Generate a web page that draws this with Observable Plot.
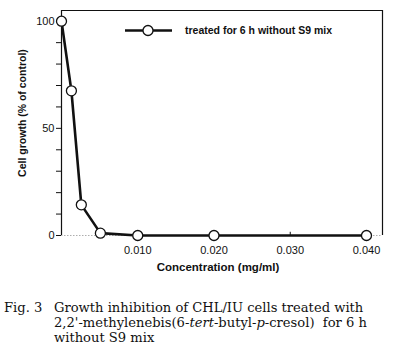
<!DOCTYPE html>
<html>
<head>
<meta charset="utf-8">
<script src="https://cdn.jsdelivr.net/npm/d3@7"></script>
<script src="https://cdn.jsdelivr.net/npm/@observablehq/plot@0.6"></script>
<style>
  html, body { margin: 0; padding: 0; background: #fff; }
  #wrap { position: relative; width: 396px; height: 355px; overflow: hidden; }
  #chart svg { display: block; }
  #caption {
    position: absolute; left: 4px; top: 300px;
    font-family: "DejaVu Serif", "Liberation Serif", serif;
    font-size: 13.1px; line-height: 15px; color: #111;
    display: flex; white-space: nowrap;
  }
  #caption .fig { width: 50px; flex: none; }
  #caption .txt { display: block; }
</style>
</head>
<body>
<div id="wrap">
  <div id="chart"></div>
  <div id="caption"><span class="fig">Fig. 3</span><span class="txt">Growth inhibition of CHL/IU cells treated with<br>2,2'-methylenebis(6-<i>tert</i>-butyl-<i>p</i>-cresol)&nbsp; for 6 h<br>without S9 mix</span></div>
</div>
<script>
// ---- data ----
const concentration = [0, 0.0013, 0.0026, 0.0051, 0.010, 0.020, 0.040];
const growth = [100, 67.5, 14.3, 1.1, 0, 0, 0];
const xTicks = [0.010, 0.020, 0.030, 0.040];
const yTicks = [0, 10, 20, 30, 40, 50, 60, 70, 80, 90, 100];
const yLabelled = [0, 50, 100];
const seriesName = "treated for 6 h without S9 mix";
const xTitle = "Concentration (mg/ml)";
const yTitle = "Cell growth (% of control)";
const xDomain = [0, 0.0421];
const yDomain = [0, 105];

const data = concentration.map((c, i) => ({c, g: growth[i]}));
const sans = "'Liberation Sans', Arial, sans-serif";

const chart = Plot.plot({
  width: 396,
  height: 285,
  marginLeft: 61,
  marginRight: 14,
  marginTop: 10,
  marginBottom: 50,
  style: {fontFamily: sans, fontSize: "11px", color: "#111", background: "#fff"},
  x: {domain: xDomain},
  y: {domain: yDomain},
  marks: [
    Plot.ruleY([0], {stroke: "#999", strokeWidth: 0.8, strokeDasharray: "1.5,1.5"}),
    Plot.ruleX([xDomain[0], xDomain[1]], {stroke: "#111", strokeWidth: 1.2}),
    Plot.ruleY([yDomain[1]], {stroke: "#111", strokeWidth: 1.2}),
    Plot.axisY({ticks: yTicks, tickSize: 5, tickPadding: 2, label: null,
      tickFormat: d => yLabelled.includes(d) ? String(d) : "", stroke: "#111", fontSize: 11}),
    Plot.axisX({ticks: xTicks, tickSize: 0, tickPadding: 11, label: null,
      tickFormat: d => d.toFixed(3), fontSize: 11}),
    Plot.ruleX(xTicks, {y1: 0, y2: 1.5, stroke: "#111", strokeWidth: 1}),
    Plot.text([xTitle], {frameAnchor: "bottom", textAnchor: "middle", dx: -4, dy: 35, fontSize: 11.5, fontWeight: "bold", fill: "#111"}),
    Plot.text([yTitle], {frameAnchor: "left", textAnchor: "middle", dx: -39, dy: -10, rotate: -90, fontSize: 10.5, fontWeight: "bold", fill: "#111"}),
    Plot.line(data, {x: "c", y: "g", stroke: "#111", strokeWidth: 2.6}),
    Plot.dot(data, {x: "c", y: "g", r: 5, fill: "#fff", stroke: "#111", strokeWidth: 1.3})
  ]
});
document.getElementById("chart").append(chart);

// legend inside the frame
const svg = d3.select(chart);
const lg = svg.append("g").attr("transform", "translate(125,30.5)").attr("text-anchor", "start");
lg.append("line").attr("x1", 0).attr("x2", 47).attr("y1", 0).attr("y2", 0)
  .attr("stroke", "#111").attr("stroke-width", 2.6);
lg.append("circle").attr("cx", 23).attr("cy", 0).attr("r", 5)
  .attr("fill", "#fff").attr("stroke", "#111").attr("stroke-width", 1.3);
lg.append("text").attr("x", 60).attr("y", 0).attr("dy", "0.35em")
  .attr("font-family", sans).attr("font-size", 10.5).attr("font-weight", "bold")
  .attr("fill", "#111").text(seriesName);
</script>
</body>
</html>
